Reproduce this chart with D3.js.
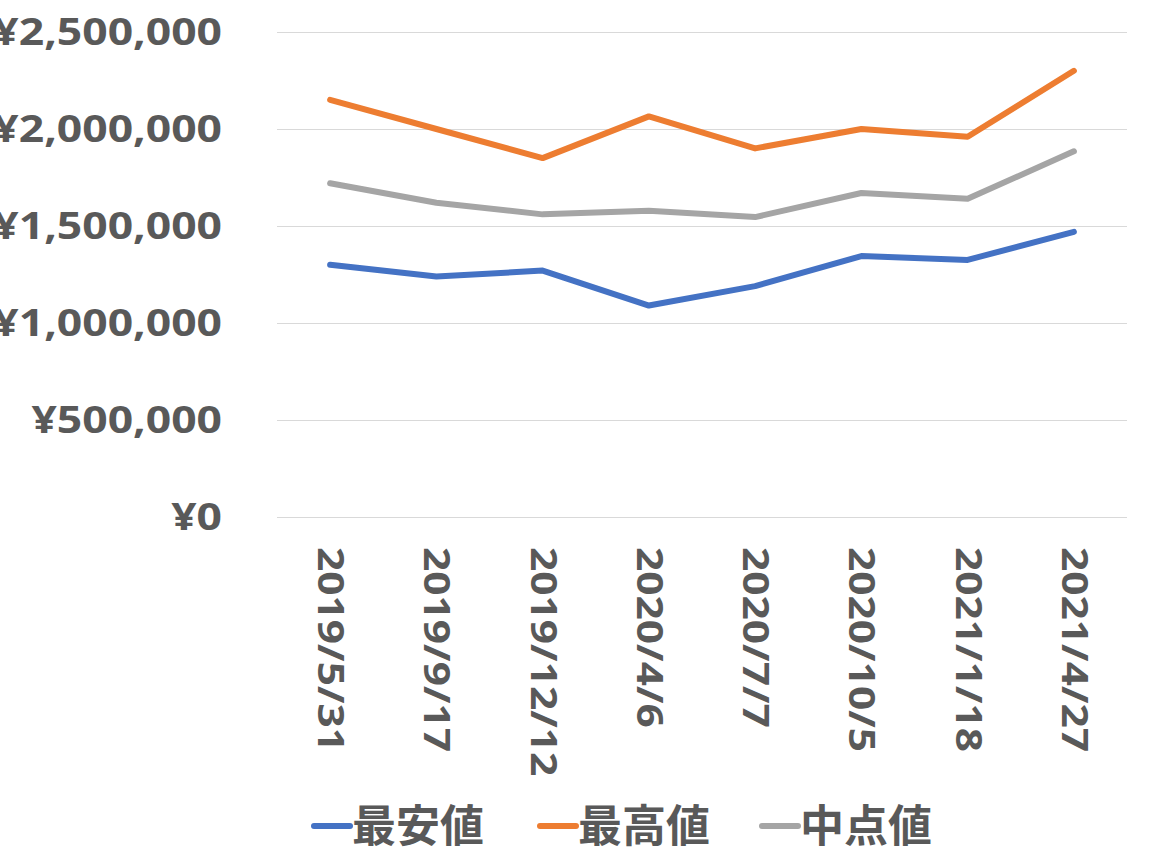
<!DOCTYPE html>
<html><head><meta charset="utf-8">
<script src="https://cdn.jsdelivr.net/npm/d3@7"></script>
<style>body{margin:0;background:#fff}</style></head>
<body><svg id="c" width="1155" height="849"></svg>
<script>
const categories=["2019/5/31","2019/9/17","2019/12/12","2020/4/6","2020/7/7","2020/10/5","2021/1/18","2021/4/27"];
const minValues=[1300000,1240000,1270000,1090000,1190000,1345000,1325000,1470000];
const maxValues=[2150000,2000000,1850000,2065000,1900000,2000000,1960000,2300000];
const midValues=[1720000,1620000,1560000,1578000,1546000,1670000,1640000,1885000];
const yTicks=[0,500000,1000000,1500000,2000000,2500000];
const seriesNames=["最安値","最高値","中点値"];
const colors=["#4472C4","#ED7D31","#A5A5A5"];
const series=[minValues,maxValues,midValues];
const font="'Open Sans','Noto Sans CJK JP',sans-serif";
const svg=d3.select("#c");
const x=d3.scalePoint().domain(categories).range([277,1127]).padding(0.5);
const y=d3.scaleLinear().domain([0,2500000]).range([517,32]);
const fmt=v=>"¥"+d3.format(",")(v);
const ya=svg.append("g").attr("transform","translate(277,0)").call(d3.axisLeft(y).tickValues(yTicks).tickFormat(fmt).tickSize(-850).tickPadding(55));
ya.select(".domain").remove();
ya.selectAll("line").attr("stroke","#d9d9d9");
ya.selectAll("text").attr("fill","#595959").style("font","bold 38px "+font).attr("textLength",null);
ya.selectAll("text").each(function(){const t=d3.select(this);const w=this.getComputedTextLength();t.attr("transform",`scale(1.17,1)`).attr("x",(-55)/1.17);});
const xa=svg.append("g").attr("transform","translate(0,517)").call(d3.axisBottom(x).tickSize(0));
xa.select(".domain").remove();
xa.selectAll("text").attr("fill","#595959").style("font","bold 36px "+font)
 .attr("transform","rotate(90) scale(1.18,1)").attr("text-anchor","start").attr("x",30/1.18).attr("y",0).attr("dy","0.35em");
const line=d3.line().x((d,i)=>x(categories[i])).y(d=>y(d));
series.forEach((s,k)=>svg.append("path").datum(s).attr("d",line).attr("fill","none").attr("stroke",colors[k]).attr("stroke-width",6).attr("stroke-linejoin","round").attr("stroke-linecap","round"));
const lx=[314,540,762];
seriesNames.forEach((n,k)=>{
 const g=svg.append("g").attr("transform",`translate(${lx[k]},826)`);
 g.append("line").attr("x1",0).attr("x2",36).attr("stroke",colors[k]).attr("stroke-width",6).attr("stroke-linecap","round");
 g.append("text").attr("x",38).attr("dy","0.36em").attr("fill","#595959").style("font","bold 44px "+font).text(n);
});
</script></body></html>
